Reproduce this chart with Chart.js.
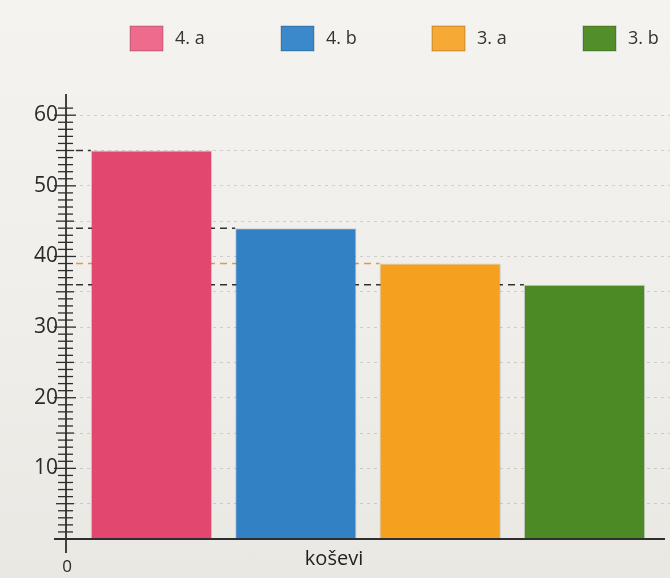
<!DOCTYPE html>
<html>
<head>
<meta charset="utf-8">
<script src="https://cdn.jsdelivr.net/npm/chart.js@4"></script>
<style>
  body { margin: 0; background: linear-gradient(180deg, #f4f3f0 0%, #efeeea 55%, #e9e8e3 100%); }
  #wrap { width: 670px; height: 578px; }
</style>
</head>
<body>
<div id="wrap"><canvas id="chart"></canvas></div>
<script>
// data
const categories = ['koševi'];
const classes = ['4. a', '4. b', '3. a', '3. b'];
const baskets = [55, 44, 39, 36];
const yMax = 63;

// colours
const barColors = ['#e2486f', '#3381c5', '#f5a11f', '#4b8a24'];
const legendColors = ['#ee6b8e', '#3b89cb', '#f7a935', '#528f2a'];
const guideColors = ['#333333', '#333333', '#e39a45', '#333333'];

const FONT = '"Open Sans", "DejaVu Sans", sans-serif';

// axis with ruler ticks, dashed guide lines, "0" and the legend
const decor = {
  id: 'decor',
  beforeDatasetsDraw(chart) {
    const ctx = chart.ctx;
    const y = chart.scales.y;
    const area = chart.chartArea;
    ctx.save();
    ctx.setLineDash([7, 5]);
    ctx.lineWidth = 1.6;
    chart.data.datasets.forEach((ds, i) => {
      const bar = chart.getDatasetMeta(i).data[0];
      const py = y.getPixelForValue(ds.data[0]);
      ctx.strokeStyle = guideColors[i];
      ctx.beginPath();
      ctx.moveTo(area.left + 10, py);
      ctx.lineTo(bar.x - bar.width / 2, py);
      ctx.stroke();
    });
    ctx.restore();
  },
  afterDatasetsDraw(chart) {
    const ctx = chart.ctx;
    const y = chart.scales.y;
    const area = chart.chartArea;
    const ax = area.left;
    ctx.save();
    ctx.strokeStyle = '#2e2e2e';
    // y axis line
    ctx.lineWidth = 1.8;
    ctx.beginPath();
    ctx.moveTo(ax, area.top);
    ctx.lineTo(ax, area.bottom + 14);
    ctx.stroke();
    // x axis line
    ctx.beginPath();
    ctx.moveTo(ax - 12, area.bottom);
    ctx.lineTo(area.right - 5, area.bottom);
    ctx.stroke();
    // ruler ticks every unit
    ctx.lineWidth = 1.3;
    for (let v = 1; v <= 61; v++) {
      const py = y.getPixelForValue(v);
      let l = 8, r = 7;
      if (v % 10 === 0) { l = 12; r = 10; }
      else if (v % 5 === 0) { l = 10; r = 8; }
      ctx.beginPath();
      ctx.moveTo(ax - l, py);
      ctx.lineTo(ax + r, py);
      ctx.stroke();
    }
    // zero under the axis
    ctx.fillStyle = '#2a2a2a';
    ctx.font = '17px ' + FONT;
    ctx.textAlign = 'center';
    ctx.textBaseline = 'middle';
    ctx.fillText('0', ax + 1, area.bottom + 28);
    // legend, spread over the plot width
    ctx.font = '18px ' + FONT;
    ctx.textAlign = 'left';
    chart.data.datasets.forEach((ds, i) => {
      const bx = area.left + area.width * i / 4 + 64;
      ctx.fillStyle = legendColors[i];
      ctx.fillRect(bx, 26, 33, 25);
      ctx.strokeStyle = 'rgba(0,0,0,0.25)';
      ctx.lineWidth = 1;
      ctx.strokeRect(bx, 26, 33, 25);
      ctx.fillStyle = '#333';
      ctx.fillText(ds.label, bx + 45, 39);
    });
    ctx.restore();
  }
};

new Chart(document.getElementById('chart'), {
  type: 'bar',
  data: {
    labels: categories,
    datasets: classes.map((c, i) => ({
      label: c,
      data: [baskets[i]],
      backgroundColor: barColors[i],
      borderColor: 'rgba(0,0,0,0.15)',
      borderWidth: 1,
      categoryPercentage: 0.956,
      barPercentage: 0.84
    }))
  },
  options: {
    responsive: true,
    maintainAspectRatio: false,
    animation: false,
    layout: { padding: { top: 94, left: 26, right: 0, bottom: 7 } },
    plugins: { legend: { display: false }, tooltip: { enabled: false } },
    scales: {
      x: {
        grid: { display: false },
        border: { display: false },
        ticks: { color: '#222', font: { family: FONT, size: 20 }, padding: 0, labelOffset: -34 }
      },
      y: {
        min: 0,
        max: yMax,
        border: { display: false, dash: [3, 4] },
        grid: {
          drawTicks: false,
          color: c => (c.tick && c.tick.value > 0 && c.tick.value % 5 === 0) ? 'rgba(70,70,70,0.2)' : 'transparent'
        },
        ticks: {
          stepSize: 5,
          includeBounds: false,
          autoSkip: false,
          padding: 8,
          color: '#2a2a2a',
          font: { family: FONT, size: 21 },
          callback: v => (v > 0 && v % 10 === 0) ? v : ''
        }
      }
    }
  },
  plugins: [decor]
});
</script>
</body>
</html>
